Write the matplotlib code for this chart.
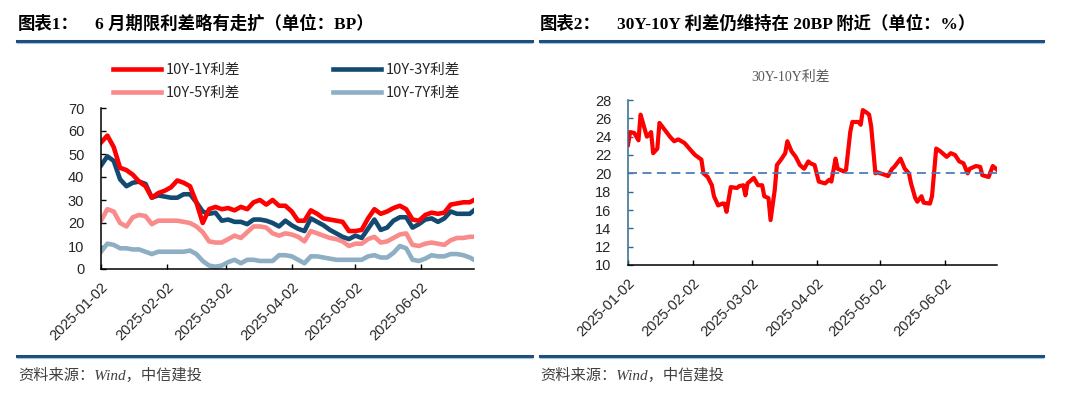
import matplotlib
matplotlib.use('Agg')
import matplotlib.pyplot as plt
import matplotlib.dates as mdates
import pandas as pd
from matplotlib.lines import Line2D

# 左图：期限利差 (BP)，每3天读取一次
l_dates = list(pd.date_range('2025-01-02', '2025-06-25', freq='3D')) + [pd.Timestamp('2025-06-27')]
spread_1y = [55, 58, 53, 44, 43, 41, 38, 36, 31, 33, 34, 35.5, 38.5, 37.5, 36, 29, 20, 26, 27, 26,
             26.5, 25.5, 27, 26, 29, 30, 28, 30, 27.5, 27.5, 25, 21, 21, 25.5, 24, 22, 21.5, 21, 20.5, 16.5,
             16.5, 17, 22, 26, 24, 25, 26.5, 27.5, 26, 21.5, 21, 23.5, 24.5, 24, 24.5, 28, 28.5, 29, 29, 30]
spread_3y = [45, 49, 47, 39, 36, 37.5, 38, 37, 31, 32, 31.5, 31, 31, 32.5, 32.5, 29, 25, 24, 24.5, 21,
             21.5, 20.5, 20.5, 19.5, 21.5, 21.5, 21, 20, 18.5, 21, 19, 17.5, 16.5, 22, 20.5, 19, 17, 15.5, 14, 13,
             14.5, 13.5, 17.5, 21.5, 17, 18, 21, 22.5, 22.5, 18, 19.5, 21.5, 22, 20.5, 22, 25, 24, 24, 24, 25.5]
spread_5y = [21, 26, 25, 20, 18.5, 22.5, 23.5, 23, 19.5, 21, 21, 21, 21, 20.5, 20, 18.5, 16, 12, 11.5, 11.5,
             13, 14.5, 13.5, 16, 18.5, 18.5, 18, 15.5, 14.5, 15.5, 15, 14, 12, 16.5, 15.5, 14.5, 13.5, 13, 12, 10,
             11, 11, 13, 14, 11.5, 12, 13.5, 15, 15.5, 10.5, 10, 11, 11.5, 11, 10.5, 12.5, 13.5, 13.5, 14, 14]
spread_7y = [7.5, 11, 10.5, 9, 9, 8.5, 8.5, 7.5, 6.5, 7.5, 7.5, 7.5, 7.5, 7.5, 8, 6.5, 3.5, 1.5, 1, 1.5,
             3, 4, 2.5, 4, 4, 3.5, 3.5, 3.5, 6, 6, 5.5, 4, 2.5, 5.5, 5.5, 5, 4.5, 4, 4, 4,
             4, 4, 5.5, 6, 5, 5, 7, 10, 9, 4, 3.5, 4.5, 6, 5.5, 5.5, 6.5, 6.5, 6, 5, 4]

# 右图：30Y-10Y 利差
r_dates = ['2025-01-02', '2025-01-03', '2025-01-05', '2025-01-07', '2025-01-08', '2025-01-09',
           '2025-01-11', '2025-01-12', '2025-01-13', '2025-01-14', '2025-01-16', '2025-01-17',
           '2025-01-19', '2025-01-22', '2025-01-24', '2025-01-26', '2025-01-29', '2025-02-01',
           '2025-02-03', '2025-02-06', '2025-02-07', '2025-02-09', '2025-02-11', '2025-02-12',
           '2025-02-14', '2025-02-16', '2025-02-17', '2025-02-18', '2025-02-20', '2025-02-23',
           '2025-02-24', '2025-02-26', '2025-02-27', '2025-02-28', '2025-03-03', '2025-03-05',
           '2025-03-07', '2025-03-08', '2025-03-10', '2025-03-11', '2025-03-13', '2025-03-14',
           '2025-03-16', '2025-03-18', '2025-03-19', '2025-03-21', '2025-03-23', '2025-03-25',
           '2025-03-27', '2025-03-29', '2025-03-30', '2025-04-01', '2025-04-03', '2025-04-06',
           '2025-04-08', '2025-04-09', '2025-04-11', '2025-04-12', '2025-04-15', '2025-04-16',
           '2025-04-18', '2025-04-19', '2025-04-22', '2025-04-23', '2025-04-24', '2025-04-26',
           '2025-04-27', '2025-04-28', '2025-04-30', '2025-05-01', '2025-05-05', '2025-05-06',
           '2025-05-08', '2025-05-09', '2025-05-12', '2025-05-14', '2025-05-16', '2025-05-17',
           '2025-05-19', '2025-05-20', '2025-05-22', '2025-05-23', '2025-05-26', '2025-05-27',
           '2025-05-29', '2025-05-31', '2025-06-03', '2025-06-05', '2025-06-07', '2025-06-09',
           '2025-06-11', '2025-06-13', '2025-06-14', '2025-06-17', '2025-06-19', '2025-06-20',
           '2025-06-23', '2025-06-25', '2025-06-27']
spread_30y = [23.1, 24.5, 24.4, 23.6, 26.4, 25.6, 24.0, 24.2, 24.5, 22.2, 22.7, 25.5,
              24.9, 24.0, 23.5, 23.7, 23.3, 22.5, 22.0, 21.5, 20.0, 19.6, 18.7, 17.5,
              16.5, 16.7, 16.7, 15.8, 18.5, 18.4, 18.6, 18.7, 17.6, 18.9, 19.5, 18.7,
              18.7, 17.5, 17.3, 14.9, 18.2, 20.9, 21.5, 22.2, 23.5, 22.4, 21.8, 20.9,
              20.5, 21.3, 21.1, 20.9, 19.1, 18.9, 19.3, 19.1, 21.6, 20.5, 20.2, 20.4,
              24.5, 25.6, 25.6, 25.3, 26.9, 26.6, 26.4, 25.1, 20.0, 20.1, 19.8, 19.7,
              20.5, 20.7, 21.6, 20.5, 20.0, 18.9, 17.3, 16.9, 17.5, 16.8, 16.7, 17.5,
              22.7, 22.4, 21.8, 22.2, 22.0, 21.3, 21.1, 20.0, 20.5, 20.8, 20.7, 19.8,
              19.6, 20.8, 20.4]
ref_level = 20

tick_dates = ['2025-01-02', '2025-02-02', '2025-03-02', '2025-04-02', '2025-05-02', '2025-06-02']

cjk = ['Noto Sans CJK SC', 'DejaVu Sans']
serif_cjk = ['Liberation Serif', 'Noto Sans CJK SC']
num_font = ['Liberation Sans', 'DejaVu Sans']

fig = plt.figure(figsize=(10.8, 3.94), dpi=100)

# 标题
fig.text(18 / 1080, 0.939, '图表1：', family=serif_cjk, fontweight='bold', fontsize=12.5, va='center')
fig.text(95 / 1080, 0.939, '6 月期限利差略有走扩（单位：BP）', family=serif_cjk, fontweight='bold',
         fontsize=12.5, va='center')
fig.text(540 / 1080, 0.939, '图表2：', family=serif_cjk, fontweight='bold', fontsize=12.5, va='center')
fig.text(617 / 1080, 0.939, '30Y-10Y 利差仍维持在 20BP 附近（单位：%）', family=serif_cjk,
         fontweight='bold', fontsize=12.5, va='center')

# 分隔线
for x0, x1 in [(17, 532), (540, 1043)]:
    for y in [40.5, 355.5]:
        fig.add_artist(Line2D([x0 / 1080, x1 / 1080], [1 - y / 394] * 2, transform=fig.transFigure,
                              color='#1f4e79', lw=2.2))
        fig.add_artist(Line2D([x0 / 1080, x1 / 1080], [1 - (y + 2.2) / 394] * 2, transform=fig.transFigure,
                              color='#9dc3e6', lw=0.8))

# 资料来源
fig.text(18 / 1080, 0.046, '资料来源：Wind，中信建投', family=serif_cjk, style='italic', fontsize=11,
         color='#404040', va='center')
fig.text(540 / 1080, 0.046, '资料来源：Wind，中信建投', family=serif_cjk, style='italic', fontsize=11,
         color='#404040', va='center')

# ---- 左图 ----
ax1 = fig.add_axes([101 / 1080, 1 - 269 / 394, 373 / 1080, 161 / 394])
l7, = ax1.plot(l_dates, spread_7y, color='#8eaec4', lw=3.3, label='10Y-7Y利差')
l5, = ax1.plot(l_dates, spread_5y, color='#f98b8b', lw=3.3, label='10Y-5Y利差')
l3, = ax1.plot(l_dates, spread_3y, color='#134a72', lw=3.3, label='10Y-3Y利差')
l1, = ax1.plot(l_dates, spread_1y, color='#ff0000', lw=3.3, label='10Y-1Y利差')
ax1.set_ylim(0, 70)
ax1.set_yticks(range(0, 71, 10))
ax1.set_xlim(pd.Timestamp('2025-01-02'), pd.Timestamp('2025-06-27'))
leg = ax1.legend(handles=[l1, l5, l3, l7], ncol=2, frameon=False, loc='upper left',
                 bbox_to_anchor=(113 / 1080, 1 - 63 / 394), bbox_transform=fig.transFigure,
                 borderpad=0, borderaxespad=0, handlelength=3.3, handletextpad=0.3,
                 columnspacing=6.4, labelspacing=0.6, prop={'family': cjk, 'size': 10.5})
for t in leg.get_texts():
    t.set_color('#262626')

# ---- 右图 ----
ax2 = fig.add_axes([628 / 1080, 1 - 265 / 394, 369 / 1080, 165 / 394])
ax2.plot(pd.to_datetime(r_dates), spread_30y, color='#ff0000', lw=3.0)
ax2.axhline(ref_level, color='#4a7ebb', lw=1.3, ls=(0, (5, 3)))
ax2.set_ylim(10, 28)
ax2.set_yticks(range(10, 29, 2))
ax2.set_xlim(pd.Timestamp('2025-01-02'), pd.Timestamp('2025-06-27'))
fig.text(790 / 1080, 1 - 77 / 394, '30Y-10Y利差', family=serif_cjk, fontsize=10, color='#595959',
         ha='center', va='center')

for ax in [ax1, ax2]:
    ax.spines['top'].set_visible(False)
    ax.spines['right'].set_visible(False)
    ax.spines['bottom'].set_color('#000000')
    ax.spines['bottom'].set_linewidth(1.1)
    ax.spines['left'].set_linewidth(1.1)
    ax.set_xticks(pd.to_datetime(tick_dates))
    ax.xaxis.set_major_formatter(mdates.DateFormatter('%Y-%m-%d'))
    ax.tick_params(direction='in', length=3.5, width=1, colors='#000000', labelcolor='#262626',
                   labelsize=10.5)
    ax.tick_params(axis='y', pad=12)
    ax.tick_params(axis='x', pad=8)
    for lab in ax.get_xticklabels():
        lab.set_rotation(45)
        lab.set_ha('right')
        lab.set_rotation_mode('anchor')
        lab.set_family(num_font)
    for lab in ax.get_yticklabels():
        lab.set_family(num_font)

ax1.spines['left'].set_color('#000000')
ax2.spines['left'].set_color('#2e6a8e')
ax2.tick_params(axis='y', colors='#2e6a8e', labelcolor='#262626')

fig.savefig('out.png', dpi=100)
